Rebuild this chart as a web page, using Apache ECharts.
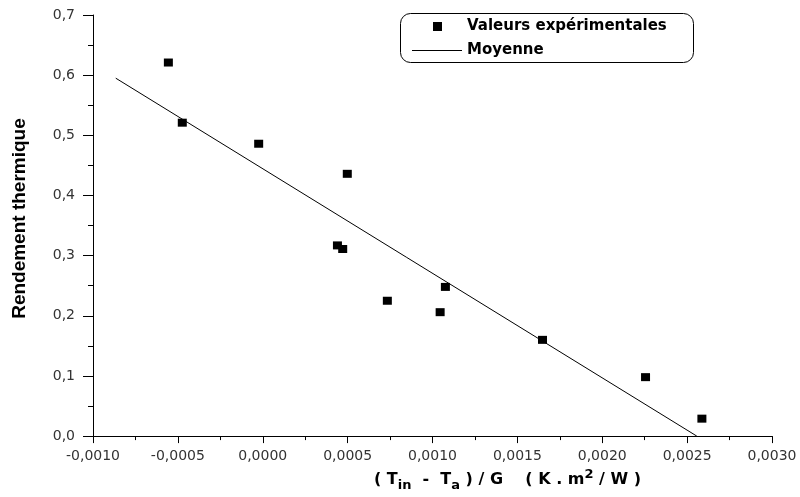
<!DOCTYPE html>
<html>
<head>
<meta charset="utf-8">
<title>Rendement thermique</title>
<script src="https://cdn.jsdelivr.net/npm/echarts@6/dist/echarts.min.js"></script>
<style>
  html, body { margin: 0; padding: 0; background: #fff; }
  #chart { width: 800px; height: 497px; }
</style>
</head>
<body>
<div id="chart"></div>
<script>
// Measured points: reduced temperature (K.m2/W) and thermal efficiency
const reducedTemp = [-0.000556, -0.000474, -0.000024, 0.000498, 0.00044, 0.000471, 0.000734, 0.001045, 0.001076, 0.001648, 0.002255, 0.002587];
const efficiency  = [0.621, 0.521, 0.486, 0.436, 0.317, 0.311, 0.225, 0.206, 0.248, 0.160, 0.098, 0.029];

// Fitted line end points
const fitX = [-0.000866, 0.002557];
const fitY = [0.595, 0.0];

const seriesNames = ['Valeurs expérimentales', 'Moyenne'];

const scatterData = reducedTemp.map((x, i) => [x, efficiency[i]]);
const fitData = fitX.map((x, i) => [x, fitY[i]]);

const commaFmt = (digits) => (v) => {
  if (Math.abs(v) < 1e-12) v = 0;
  return v.toFixed(digits).replace('.', ',');
};

const chart = echarts.init(document.getElementById('chart'), null, { renderer: 'canvas' });

const axisColor = '#000';
const labelFont = { fontFamily: 'DejaVu Sans', fontSize: 14, color: '#333' };
const boldFont = { fontFamily: 'DejaVu Sans', fontWeight: 'bold', color: '#000' };
const legendText = Object.assign({ fontSize: 15, lineHeight: 17 }, boldFont);

chart.setOption({
  animation: false,
  backgroundColor: '#fff',
  grid: { left: 93, right: 28, top: 15, bottom: 60 },
  xAxis: {
    type: 'value',
    min: -0.001,
    max: 0.003,
    interval: 0.0005,
    axisLine: { show: true, onZero: false, lineStyle: { color: axisColor, width: 1 } },
    axisTick: { show: true, length: 7, inside: false, lineStyle: { color: axisColor } },
    minorTick: { show: true, splitNumber: 2, length: 4, lineStyle: { color: axisColor } },
    splitLine: { show: false },
    axisLabel: Object.assign({ margin: 13, formatter: commaFmt(4) }, labelFont),
    name: '{m|( T}{s|in}{m|  -  T}{s|a}{m| ) / G    ( K . m}{p|2}{m| / W )}',
    nameLocation: 'middle',
    nameGap: 29,
    nameTextStyle: {
      padding: [0, 0, 0, 150],
      rich: {
        m: Object.assign({ fontSize: 16, lineHeight: 24, verticalAlign: 'middle' }, boldFont),
        s: Object.assign({ fontSize: 13, lineHeight: 12, verticalAlign: 'bottom' }, boldFont),
        p: Object.assign({ fontSize: 13, lineHeight: 12, verticalAlign: 'top' }, boldFont)
      }
    }
  },
  yAxis: {
    type: 'value',
    min: 0,
    max: 0.7,
    interval: 0.1,
    axisLine: { show: true, onZero: false, lineStyle: { color: axisColor, width: 1 } },
    axisTick: { show: true, length: 10, inside: false, lineStyle: { color: axisColor } },
    minorTick: { show: true, splitNumber: 2, length: 5, lineStyle: { color: axisColor } },
    splitLine: { show: false },
    axisLabel: Object.assign({ margin: 18, formatter: commaFmt(1) }, labelFont),
    name: 'Rendement thermique',
    nameLocation: 'middle',
    nameGap: 64,
    nameTextStyle: {
      fontFamily: 'Liberation Sans',
      fontWeight: 'bold',
      fontSize: 19,
      color: '#000',
      padding: [0, 0, 0, 14]
    }
  },
  legend: [
    {
      // square marker sits in the middle of the 50px icon column
      left: 433,
      top: 18,
      itemWidth: 9,
      itemHeight: 9,
      padding: 0,
      icon: 'rect',
      formatter: (name) => '{g|}{t|' + name + '}',
      textStyle: Object.assign({}, legendText, {
        rich: {
          g: { width: 20, lineHeight: 17 },
          t: legendText
        }
      }),
      data: [seriesNames[0]]
    },
    {
      left: 412,
      top: 42,
      itemWidth: 50,
      itemHeight: 1,
      padding: 0,
      icon: 'rect',
      textStyle: legendText,
      data: [seriesNames[1]]
    }
  ],
  graphic: [{
    type: 'rect',
    silent: true,
    shape: { x: 400.5, y: 13.5, width: 293, height: 49, r: 10 },
    style: { fill: 'none', stroke: '#000', lineWidth: 1 }
  }],
  series: [
    {
      name: seriesNames[0],
      type: 'scatter',
      symbol: 'rect',
      symbolSize: [9, 8],
      itemStyle: { color: '#000', opacity: 1 },
      data: scatterData,
      z: 3
    },
    {
      name: seriesNames[1],
      type: 'line',
      symbol: 'none',
      lineStyle: { color: '#000', width: 1 },
      itemStyle: { color: '#000' },
      data: fitData,
      z: 2
    }
  ]
});
</script>
</body>
</html>
